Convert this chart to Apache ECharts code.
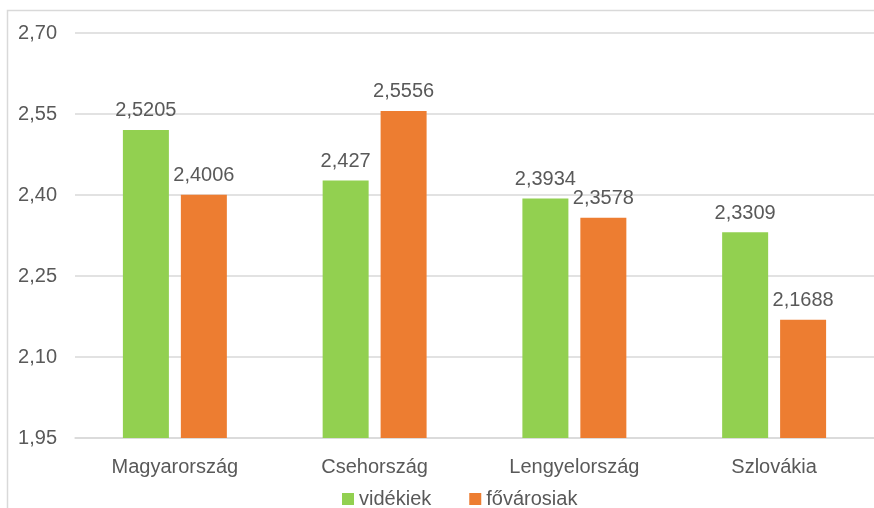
<!DOCTYPE html>
<html><head><meta charset="utf-8">
<script src="https://cdn.jsdelivr.net/npm/echarts@6/dist/echarts.min.js"></script>
<style>html,body{margin:0;padding:0;background:#fff}#c{width:874px;height:508px}</style>
</head><body><div id="c"></div>
<script>
const categories = ['Magyarország', 'Csehország', 'Lengyelország', 'Szlovákia'];
const videkiek = [2.5205, 2.427, 2.3934, 2.3309];
const fovarosiak = [2.4006, 2.5556, 2.3578, 2.1688];
const seriesNames = ['vidékiek', 'fővárosiak'];
const yTicks = { min: 1.95, max: 2.70, step: 0.15 };

const fmt = v => String(v).replace('.', ',');
const font = 'Liberation Sans, Arial, sans-serif';
const txt = '#595959';
const fs = 20;
const chart = echarts.init(document.getElementById('c'));
const lbl = { show: true, position: 'top', distance: 9, color: txt, fontSize: fs, fontFamily: font,
  formatter: p => fmt(p.value) };
chart.setOption({
  animation: false,
  graphic: [{ type: 'rect', shape: { x: 7.5, y: 10.5, width: 1000, height: 1000 },
    style: { fill: 'none', stroke: '#d9d9d9', lineWidth: 1.5 }, silent: true }],
  grid: { left: 75, right: 0, top: 33, bottom: 70 },
  legend: { bottom: -6, left: 337, itemWidth: 12, itemHeight: 12, itemGap: 38,
    icon: 'rect', textStyle: { color: txt, fontSize: fs, fontFamily: font }, data: seriesNames },
  xAxis: { type: 'category', data: categories,
    axisLine: { lineStyle: { color: '#d9d9d9', width: 1.5 } }, axisTick: { show: false },
    axisLabel: { color: txt, fontSize: fs, fontFamily: font, margin: 19 } },
  yAxis: { type: 'value', min: yTicks.min, max: yTicks.max, interval: yTicks.step,
    axisLine: { show: false }, axisTick: { show: false },
    splitLine: { lineStyle: { color: '#d9d9d9', width: 1.5 } },
    axisLabel: { color: txt, fontSize: fs, fontFamily: font, margin: 18,
      formatter: v => v.toFixed(2).replace('.', ',') } },
  series: [
    { name: seriesNames[0], type: 'bar', data: videkiek, itemStyle: { color: '#92D050' },
      barWidth: 46, barGap: '26%', label: lbl },
    { name: seriesNames[1], type: 'bar', data: fovarosiak, itemStyle: { color: '#ED7D31' },
      barWidth: 46, barGap: '26%', label: lbl }
  ]
});
</script></body></html>
